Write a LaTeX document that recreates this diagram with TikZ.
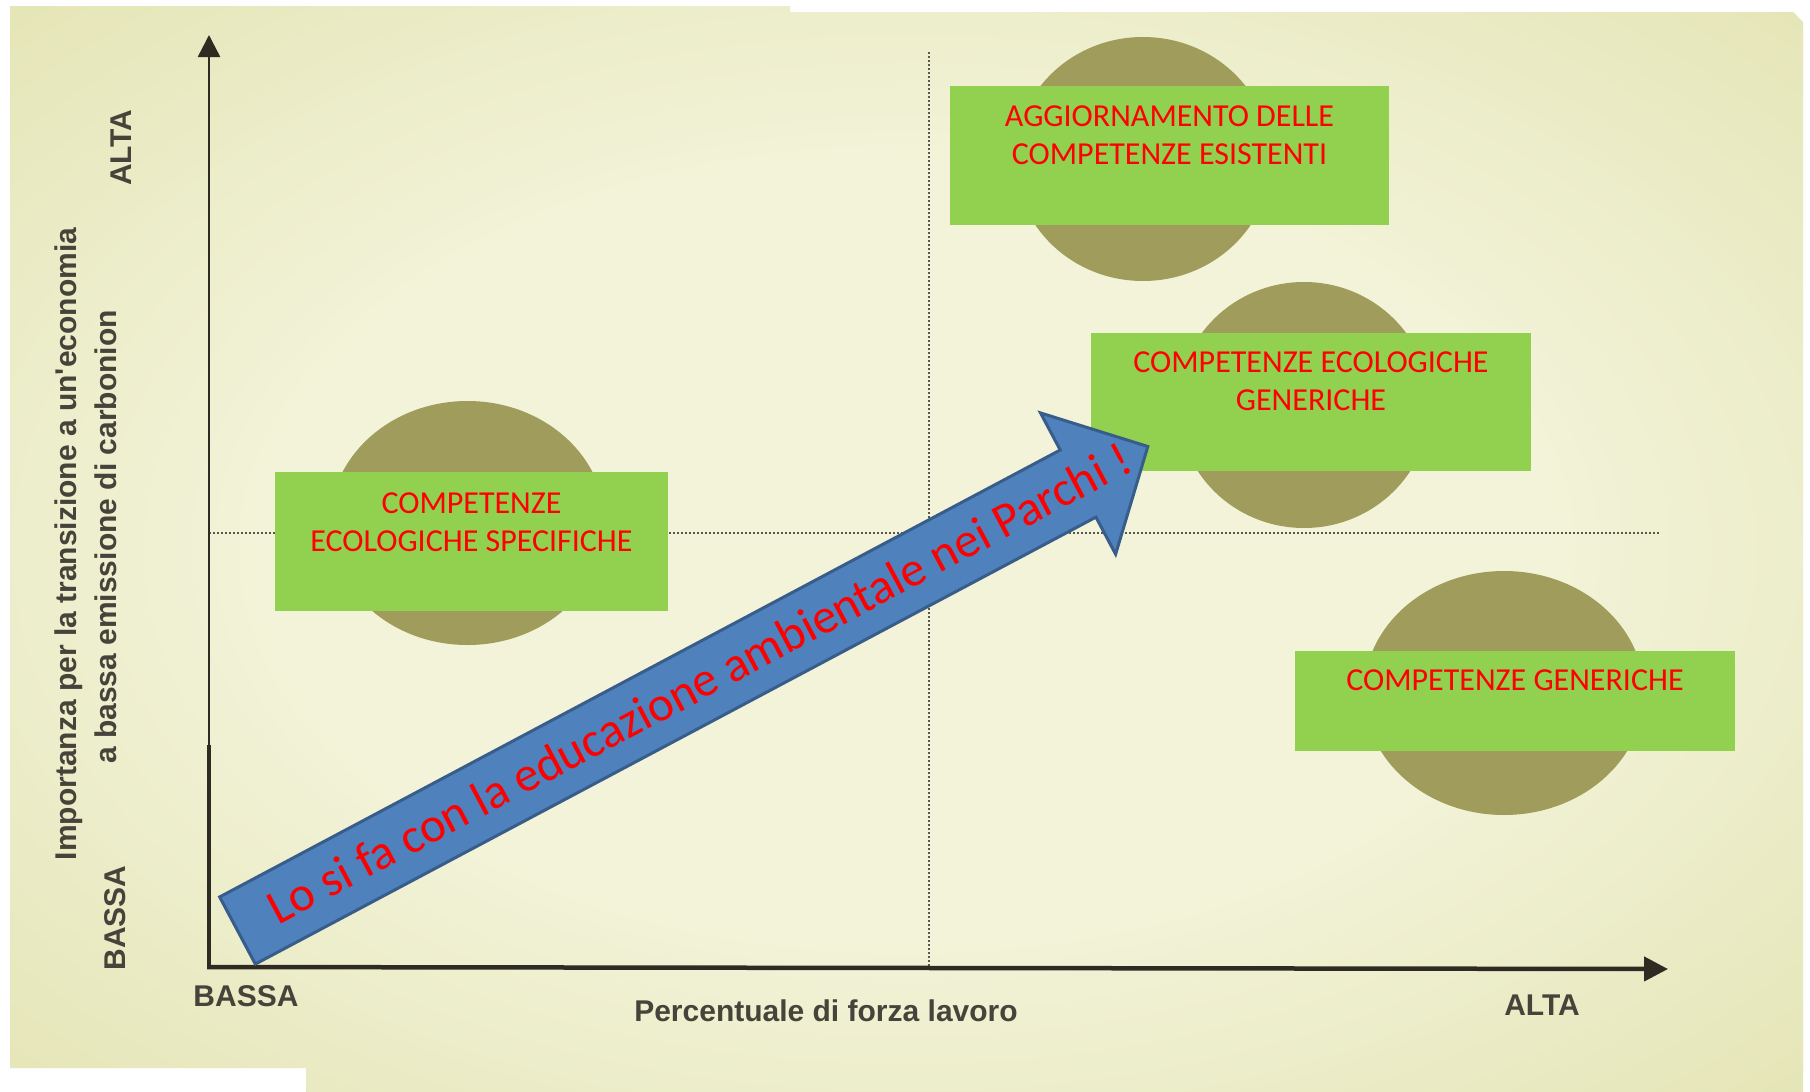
\documentclass[tikz,border=0pt]{standalone}
\usepackage{fontspec}
\setmainfont{Carlito}
\newfontfamily\axisfont{Liberation Sans}
\usetikzlibrary{arrows.meta,shapes.geometric}
\definecolor{cream}{HTML}{F2F3D8}
\definecolor{olivebg}{HTML}{D6D692}
\definecolor{blob}{HTML}{A09D5C}
\definecolor{boxgreen}{HTML}{92D050}
\definecolor{arrowfill}{HTML}{4F81BD}
\definecolor{arrowline}{HTML}{385D8A}
\definecolor{axiscol}{HTML}{2E2B22}
\definecolor{labelcol}{HTML}{46443A}
\pgfdeclareradialshading{bgshade}{\pgfpoint{0bp}{0bp}}{color(0bp)=(cream); color(18bp)=(cream); color(40bp)=(olivebg!60!cream); color(60bp)=(olivebg); color(75bp)=(olivebg)}
\begin{document}
\begin{tikzpicture}[x=1pt,y=-1pt,
  blobstyle/.style={ellipse, fill=blob, draw=none, inner sep=0pt},
  greenbox/.style={rectangle, fill=boxgreen, draw=none, inner sep=0pt},
  boxtext/.style={text=red, font=\fontsize{32}{38}\selectfont, align=center, inner sep=0pt},
  arrowtext/.style={text=red, font=\fontsize{49}{58}\selectfont, inner sep=0pt},
  axislabel/.style={text=labelcol, font=\axisfont\bfseries\fontsize{30}{36}\selectfont, inner sep=0pt},
  guide/.style={draw=labelcol!90, line width=1.8pt, dash pattern=on 2pt off 2pt}]

\fill[white] (0,0) rectangle (1810,1092);
\useasboundingbox (0,0) rectangle (1810,1092);
\shade[shading=bgshade] (10,6) -- (790,6) -- (790,12) -- (1793,12) -- (1803,22) -- (1803,1092) -- (306,1092) -- (306,1068) -- (10,1068) -- cycle;

% guides
\coordinate (vtop) at (929,52);
\coordinate (vbot) at (929,967);
\coordinate (hleft) at (209,533);
\coordinate (hright) at (1659,533);
\draw[guide] (vtop) -- (vbot);
\draw[guide] (hleft) -- (hright);

% axes
\coordinate (origin) at (209,967);
\coordinate (ymid) at (209,745);
\coordinate (ytip) at (209,35);
\coordinate (xtip) at (1668,969);
\draw[draw=axiscol, line width=2.5pt, -{Triangle[length=22pt,width=22pt]}] (origin) -- (ytip);
\draw[draw=axiscol, line width=4pt] (origin) -- (ymid);
\draw[draw=axiscol, line width=4.5pt, -{Triangle[length=24pt,width=24pt]}] ([xshift=-2pt]origin) -- (xtip);

% axis labels
\node[axislabel, rotate=90] (yalta) at (121,148) {ALTA};
\node[axislabel, rotate=90] (ybassa) at (115,918) {BASSA};
\node[axislabel, rotate=90] (ytitle1) at (69,544) {Importanza per la transizione a un'economia};
\node[axislabel, rotate=90] (ytitle2) at (106,537) {a bassa emissione di carbonion};
\node[axislabel] (xbassa) at (246,996) {BASSA};
\node[axislabel] (xtitle) at (826,1011) {Percentuale di forza lavoro};
\node[axislabel] (xalta) at (1542,1005) {ALTA};

% ellipses
\node[blobstyle, minimum width=256pt, minimum height=244pt] (e1) at (1143,159) {};
\node[blobstyle, minimum width=252pt, minimum height=246pt] (e2) at (1304,405) {};
\node[blobstyle, minimum width=275pt, minimum height=244pt] (e3) at (467.5,523) {};
\node[blobstyle, minimum width=280pt, minimum height=244pt] (e4) at (1504,693) {};

% green boxes
\node[greenbox, minimum width=439pt, minimum height=139pt] (b1) at (1169.5,155.5) {};
\node[greenbox, minimum width=440pt, minimum height=138pt] (b2) at (1311,402) {};
\node[greenbox, minimum width=393pt, minimum height=139pt] (b3) at (471.5,541.5) {};
\node[greenbox, minimum width=440pt, minimum height=100pt] (b4) at (1515,701) {};

\node[boxtext] (t1) at (1169.5,135.5) {AGGIORNAMENTO DELLE\\COMPETENZE ESISTENTI};
\node[boxtext] (t2) at (1311,381) {COMPETENZE ECOLOGICHE\\GENERICHE};
\node[boxtext] (t3) at (471.5,522) {COMPETENZE\\ECOLOGICHE SPECIFICHE};
\node[boxtext] (t4) at (1515,680.5) {COMPETENZE GENERICHE};

% block arrow
\begin{scope}[shift={(237.5,930.5)}, rotate=28]
  \draw[fill=arrowfill, draw=arrowline, line width=3pt, line join=miter]
    (0,-38) -- (952,-38) -- (952,-80) -- (1031,0) -- (952,80) -- (952,38) -- (0,38) -- cycle;
  \node[arrowtext, rotate=28] (msg) at (524,-2) {Lo si fa con la educazione ambientale nei Parchi !};
\end{scope}
\end{tikzpicture}
\end{document}
